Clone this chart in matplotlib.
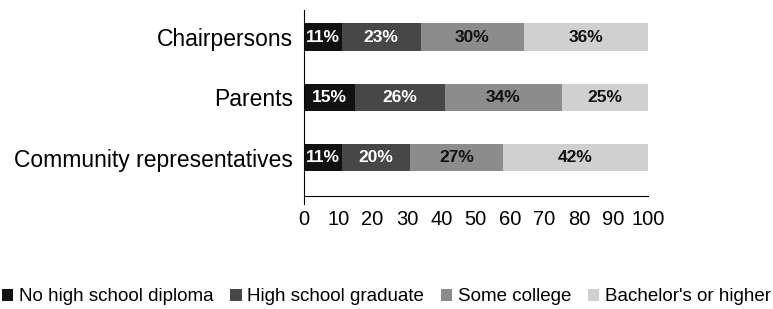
"""
Education level of council members, stacked horizontal bars
"""
import matplotlib
matplotlib.use("Agg")
import matplotlib.pyplot as plt
import numpy as np

plt.rcParams['font.family'] = ['Liberation Sans', 'DejaVu Sans']

groups = ["Chairpersons", "Parents", "Community representatives"]
series = ["No high school diploma", "High school graduate", "Some college", "Bachelor's or higher"]
no_diploma = [11, 15, 11]
hs_graduate = [23, 26, 20]
some_college = [30, 34, 27]
bachelors = [36, 25, 42]

colors = ["#111111", "#474747", "#8c8c8c", "#d0d0d0"]
text_colors = ["white", "white", "#111111", "#111111"]

fig = plt.figure(figsize=(7.73, 3.09), dpi=100)
ax = fig.add_axes([0.393, 0.366, 0.445, 0.602])

ypos = np.arange(len(groups))[::-1]
left = np.zeros(len(groups))
for name, vals, c, tc in zip(series, [no_diploma, hs_graduate, some_college, bachelors], colors, text_colors):
    vals = np.array(vals)
    ax.barh(ypos, vals, left=left, height=0.45, color=c, label=name)
    for y, l, v in zip(ypos, left, vals):
        ax.text(l + v / 2, y, f"{v}%", ha="center", va="center", color=tc,
                fontsize=12.5, fontweight="bold")
    left += vals

ax.set_xlim(0, 100)
ax.set_ylim(-0.63, 2.45)
ax.set_xticks(np.arange(0, 101, 10))
ax.set_yticks(ypos)
ax.set_yticklabels(groups, fontsize=16.5)
ax.tick_params(axis="x", length=0, labelsize=14.5, pad=10)
ax.tick_params(axis="y", length=0, pad=8)
for s in ["top", "right"]:
    ax.spines[s].set_visible(False)
ax.spines["left"].set_bounds(-0.77, 2.45)

fig.legend(loc="lower center", bbox_to_anchor=(0.5, -0.025), ncol=4, frameon=False,
           fontsize=13.5, handlelength=0.6, handleheight=0.6, handletextpad=0.3,
           columnspacing=0.9, borderaxespad=0.2)

fig.savefig("out.png", dpi=100)
